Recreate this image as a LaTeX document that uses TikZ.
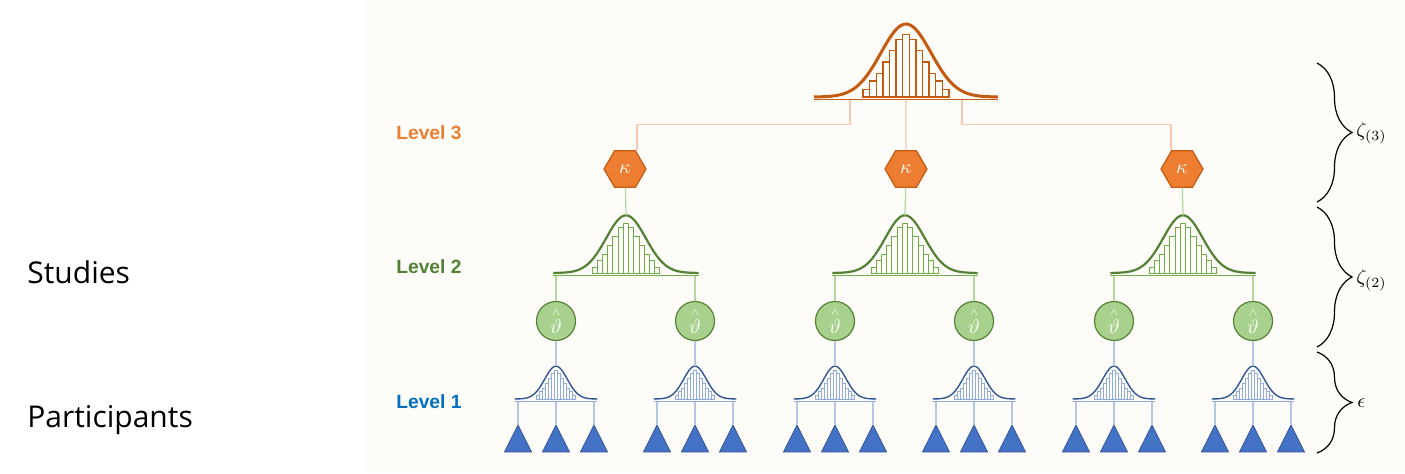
\documentclass[tikz,border=0pt]{standalone}
\usepackage{amsmath}
\usepackage{fontspec}
\setmainfont{Open Sans}
\newfontfamily\levelfont{Liberation Sans}
\usetikzlibrary{shapes.geometric,decorations.pathreplacing}
\definecolor{levelthree}{RGB}{237,125,49}
\definecolor{darkthree}{RGB}{197,90,17}
\definecolor{lightthree}{RGB}{244,201,174}
\definecolor{leveltwo}{RGB}{84,130,53}
\definecolor{filltwo}{RGB}{169,209,142}
\definecolor{bartwo}{RGB}{112,173,71}
\definecolor{lighttwo}{RGB}{181,215,160}
\definecolor{levelone}{RGB}{0,112,192}
\definecolor{darkone}{RGB}{47,85,151}
\definecolor{fillone}{RGB}{68,114,196}
\definecolor{barone}{RGB}{143,170,220}
\definecolor{lightone}{RGB}{180,199,231}
\definecolor{bgcream}{RGB}{253,252,248}
\newcommand{\distr}[5]{%
  \begin{scope}[shift={(#2,#3)}]
    \foreach \h [count=\i from -6] in {0.10,0.22,0.32,0.48,0.64,0.79,0.86,0.79,0.64,0.48,0.32,0.22,0.10}
      \draw[bars#5] ({(\i-0.5)*6.6*#4},0) rectangle ({(\i+0.5)*6.6*#4},{-73*#4*\h});
    \draw[curve#5] plot[domain=-1:1, samples=81, smooth] ({92*#4*\x},{-73*#4*exp(-(92*\x)*(92*\x)/1250)});
    \draw[bars#5] ({-92*#4},2.5) -- ({92*#4},2.5);
    \coordinate (#1) at (0,2.5);
    \coordinate (#1-top) at (0,{-73*#4});
  \end{scope}}
\newcommand{\thetahat}{$\overset{\scriptscriptstyle\wedge}{\vartheta}$}
\tikzstyle{hexnode}=[regular polygon, regular polygon sides=6, minimum size=21pt, inner sep=0pt, fill=levelthree, draw=darkthree, line width=0.6pt, text=white]
\tikzstyle{thetanode}=[circle, minimum size=19.5pt, inner sep=0pt, fill=filltwo, draw=leveltwo, line width=0.6pt, text=white]
\tikzstyle{trinode}=[regular polygon, regular polygon sides=3, minimum size=15.6pt, inner sep=0pt, yscale=1.15, fill=fillone, draw=darkone, line width=0.4pt]
\tikzstyle{curvethree}=[draw=darkthree, line width=1.5pt]
\tikzstyle{barsthree}=[draw=darkthree, line width=0.7pt]
\tikzstyle{curvetwo}=[draw=leveltwo, line width=1.1pt]
\tikzstyle{barstwo}=[draw=bartwo, line width=0.5pt]
\tikzstyle{curveone}=[draw=darkone, line width=0.7pt]
\tikzstyle{barsone}=[draw=barone, line width=0.4pt]
\tikzstyle{linkthree}=[draw=lightthree, line width=0.6pt]
\tikzstyle{linktwo}=[draw=lighttwo, line width=0.6pt]
\tikzstyle{linkone}=[draw=lightone, line width=0.6pt]
\tikzstyle{levelbrace}=[decorate, decoration={brace, amplitude=17.5pt}, line width=0.6pt]
\tikzstyle{levellabel}=[anchor=west, inner sep=0pt, font=\levelfont\bfseries\fontsize{9.6}{11}\selectfont]
\tikzstyle{sidelabel}=[anchor=base west, inner sep=0pt, font=\fontsize{15}{18}\selectfont]
\begin{document}
\begin{tikzpicture}[x=0.5pt,y=-0.5pt]
  \useasboundingbox (0,0) rectangle (1405,473);
  \fill[bgcream] (365,0) rectangle (1405,473);

  %% distributions
  \distr{T}{906}{97}{1}{three}
  \distr{S1}{626}{273}{0.79}{two}
  \distr{S2}{905}{273}{0.79}{two}
  \distr{S3}{1183}{273}{0.79}{two}
  \distr{D1}{556}{399}{0.45}{one}
  \distr{D2}{695}{399}{0.45}{one}
  \distr{D3}{835}{399}{0.45}{one}
  \distr{D4}{974}{399}{0.45}{one}
  \distr{D5}{1114}{399}{0.45}{one}
  \distr{D6}{1253}{399}{0.45}{one}

  \draw (625,169) node[hexnode] (K1) {$\kappa$};
  \draw (906,169) node[hexnode] (K2) {$\kappa$};
  \draw (1182,169) node[hexnode] (K3) {$\kappa$};

  \draw (556,321) node[thetanode] (C1) {\thetahat};
  \draw (695,321) node[thetanode] (C2) {\thetahat};
  \draw (835,321) node[thetanode] (C3) {\thetahat};
  \draw (974,321) node[thetanode] (C4) {\thetahat};
  \draw (1114,321) node[thetanode] (C5) {\thetahat};
  \draw (1253,321) node[thetanode] (C6) {\thetahat};

  \draw (518,443) node[trinode] (P11) {};
  \draw (556,443) node[trinode] (P12) {};
  \draw (594,443) node[trinode] (P13) {};
  \draw (657,443) node[trinode] (P21) {};
  \draw (695,443) node[trinode] (P22) {};
  \draw (733,443) node[trinode] (P23) {};
  \draw (797,443) node[trinode] (P31) {};
  \draw (835,443) node[trinode] (P32) {};
  \draw (873,443) node[trinode] (P33) {};
  \draw (936,443) node[trinode] (P41) {};
  \draw (974,443) node[trinode] (P42) {};
  \draw (1012,443) node[trinode] (P43) {};
  \draw (1076,443) node[trinode] (P51) {};
  \draw (1114,443) node[trinode] (P52) {};
  \draw (1152,443) node[trinode] (P53) {};
  \draw (1215,443) node[trinode] (P61) {};
  \draw (1253,443) node[trinode] (P62) {};
  \draw (1291,443) node[trinode] (P63) {};

  %% links
  \draw[linkthree] ([xshift=-28pt]T) -- ++(0,25) -| ([xshift=6pt]K1.north);
  \draw[linkthree] ([xshift=28pt]T) -- ++(0,25) -| ([xshift=-5.5pt]K3.north);
  \draw[linkthree] (K2) -- (K2 |- T);

  \draw[linktwo] (K1) -- (S1-top);
  \draw[linktwo] (K2) -- (S2-top);
  \draw[linktwo] (K3) -- (S3-top);
  \draw[linktwo] (C1) -- (C1 |- S1) (C2) -- (C2 |- S1);
  \draw[linktwo] (C3) -- (C3 |- S2) (C4) -- (C4 |- S2);
  \draw[linktwo] (C5) -- (C5 |- S3) (C6) -- (C6 |- S3);

  \draw[linkone] (C1) -- (D1-top);
  \draw[linkone] (C2) -- (D2-top);
  \draw[linkone] (C3) -- (D3-top);
  \draw[linkone] (C4) -- (D4-top);
  \draw[linkone] (C5) -- (D5-top);
  \draw[linkone] (C6) -- (D6-top);
  \draw[linkone] (P11) -- (P11 |- D1) (P12) -- (P12 |- D1) (P13) -- (P13 |- D1);
  \draw[linkone] (P21) -- (P21 |- D2) (P22) -- (P22 |- D2) (P23) -- (P23 |- D2);
  \draw[linkone] (P31) -- (P31 |- D3) (P32) -- (P32 |- D3) (P33) -- (P33 |- D3);
  \draw[linkone] (P41) -- (P41 |- D4) (P42) -- (P42 |- D4) (P43) -- (P43 |- D4);
  \draw[linkone] (P51) -- (P51 |- D5) (P52) -- (P52 |- D5) (P53) -- (P53 |- D5);
  \draw[linkone] (P61) -- (P61 |- D6) (P62) -- (P62 |- D6) (P63) -- (P63 |- D6);

  %% labels
  \draw (396,133) node[levellabel, text=levelthree] (lvl3) {Level 3};
  \draw (396,267) node[levellabel, text=leveltwo] (lvl2) {Level 2};
  \draw (396,402) node[levellabel, text=levelone] (lvl1) {Level 1};
  \draw (27,283) node[sidelabel] (studies) {Studies};
  \draw (27,427) node[sidelabel] (participants) {Participants};

  %% braces
  \draw[levelbrace] (1317,63) -- (1317,202);
  \draw[levelbrace] (1317,207) -- (1317,347);
  \draw[levelbrace] (1317,352) -- (1317,453);
  \draw (1356,133) node[anchor=west, inner sep=0pt] (zeta3) {$\zeta_{(3)}$};
  \draw (1356,280) node[anchor=west, inner sep=0pt] (zeta2) {$\zeta_{(2)}$};
  \draw (1357,403) node[anchor=west, inner sep=0pt] (eps) {$\epsilon$};
\end{tikzpicture}
\end{document}
